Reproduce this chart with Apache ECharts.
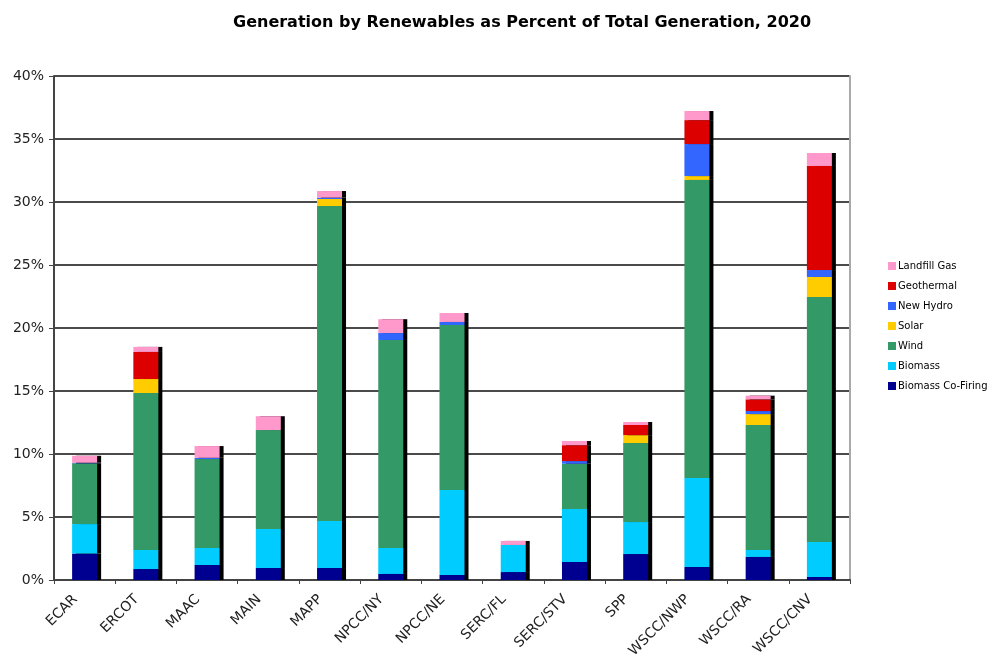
<!DOCTYPE html>
<html>
<head>
<meta charset="utf-8">
<script src="https://cdn.jsdelivr.net/npm/echarts@6/dist/echarts.min.js"></script>
<style>html,body{margin:0;padding:0;background:#fff;overflow:hidden;}#main{width:998px;height:658px;}</style>
</head>
<body>
<div id="main"></div>
<script>
const categories = ['ECAR','ERCOT','MAAC','MAIN','MAPP','NPCC/NY','NPCC/NE','SERC/FL','SERC/STV','SPP','WSCC/NWP','WSCC/RA','WSCC/CNV'];
const biomassCoFiring = [2.1, 0.87, 1.19, 0.95, 0.95, 0.48, 0.4, 0.63, 1.43, 2.06, 1.03, 1.83, 0.24];
const biomass        = [2.34, 1.51, 1.35, 3.1, 3.73, 2.06, 6.74, 2.15, 4.2, 2.54, 7.07, 0.55, 2.78];
const wind           = [4.82, 12.46, 7.06, 7.85, 25.0, 16.51, 13.1, 0, 3.6, 6.27, 23.65, 9.92, 19.44];
const solar          = [0, 1.11, 0, 0, 0.56, 0, 0, 0, 0, 0.63, 0.31, 0.87, 1.59];
const newHydro       = [0.05, 0, 0.1, 0, 0.11, 0.55, 0.24, 0, 0.21, 0, 2.54, 0.24, 0.55];
const geothermal     = [0, 2.15, 0, 0, 0, 0, 0, 0, 1.26, 0.8, 1.9, 0.93, 8.26];
const landfillGas    = [0.55, 0.4, 0.93, 1.1, 0.52, 1.1, 0.71, 0.32, 0.33, 0.24, 0.72, 0.29, 1.03];
const yTicks = ['0%','5%','10%','15%','20%','25%','30%','35%','40%'];

const seriesDefs = [
  ['Biomass Co-Firing', biomassCoFiring, '#000090'],
  ['Biomass', biomass, '#00CCFF'],
  ['Wind', wind, '#339966'],
  ['Solar', solar, '#FFCC00'],
  ['New Hydro', newHydro, '#3366FF'],
  ['Geothermal', geothermal, '#DD0000'],
  ['Landfill Gas', landfillGas, '#FF99CC']
];

const chart = echarts.init(document.getElementById('main'), null, {renderer: 'canvas'});
const font = 'DejaVu Sans, Verdana, sans-serif';
chart.setOption({
  animation: false,
  backgroundColor: '#fff',
  title: {
    text: 'Generation by Renewables as Percent of Total Generation, 2020',
    left: 228, top: 10,
    textStyle: {fontFamily: font, fontSize: 16, fontWeight: 'bold', color: '#000'}
  },
  legend: {
    orient: 'vertical',
    left: 883, top: 255,
    itemWidth: 8, itemHeight: 8, itemGap: 8,
    icon: 'rect',
    data: ['Landfill Gas','Geothermal','New Hydro','Solar','Wind','Biomass','Biomass Co-Firing'],
    textStyle: {fontFamily: font, fontSize: 10, color: '#000', lineHeight: 12, padding: [0,0,0,-3]}
  },
  grid: {left: 54, right: 148, top: 76, bottom: 78, containLabel: false, outerBoundsMode: 'none'},
  xAxis: {
    type: 'category',
    data: categories,
    axisLine: {show: true, lineStyle: {color: '#444', width: 2}},
    axisTick: {show: true, alignWithLabel: false, length: 4, lineStyle: {color: '#444', width: 1}},
    axisLabel: {rotate: 45, fontFamily: font, fontSize: 14, color: '#222', margin: 8, interval: 0,
      padding: [0, 13, 0, 0]}
  },
  yAxis: [{
    type: 'value', min: 0, max: 40, interval: 5,
    axisLine: {show: true, lineStyle: {color: '#444', width: 2}},
    axisTick: {show: true, length: 5, lineStyle: {color: '#444', width: 1}},
    axisLabel: {fontFamily: font, fontSize: 14, color: '#222', margin: 10,
      formatter: function (v) { return yTicks[Math.round(v / 5)]; }},
    splitLine: {show: true, lineStyle: {color: '#4a4a4a', width: 2}}
  }, {
    type: 'value', min: 0, max: 40, interval: 5, position: 'right',
    axisLine: {show: true, lineStyle: {color: '#aaa', width: 2}},
    axisTick: {show: false}, axisLabel: {show: false}, splitLine: {show: false}
  }],
  series: seriesDefs.map(function (d) {
    return {
      name: d[0], type: 'bar', stack: 'total', data: d[1], barWidth: 25,
      itemStyle: {color: d[2], shadowColor: '#000', shadowBlur: 0, shadowOffsetX: 4, shadowOffsetY: 0},
      emphasis: {disabled: true}
    };
  })
});
</script>
</body>
</html>
